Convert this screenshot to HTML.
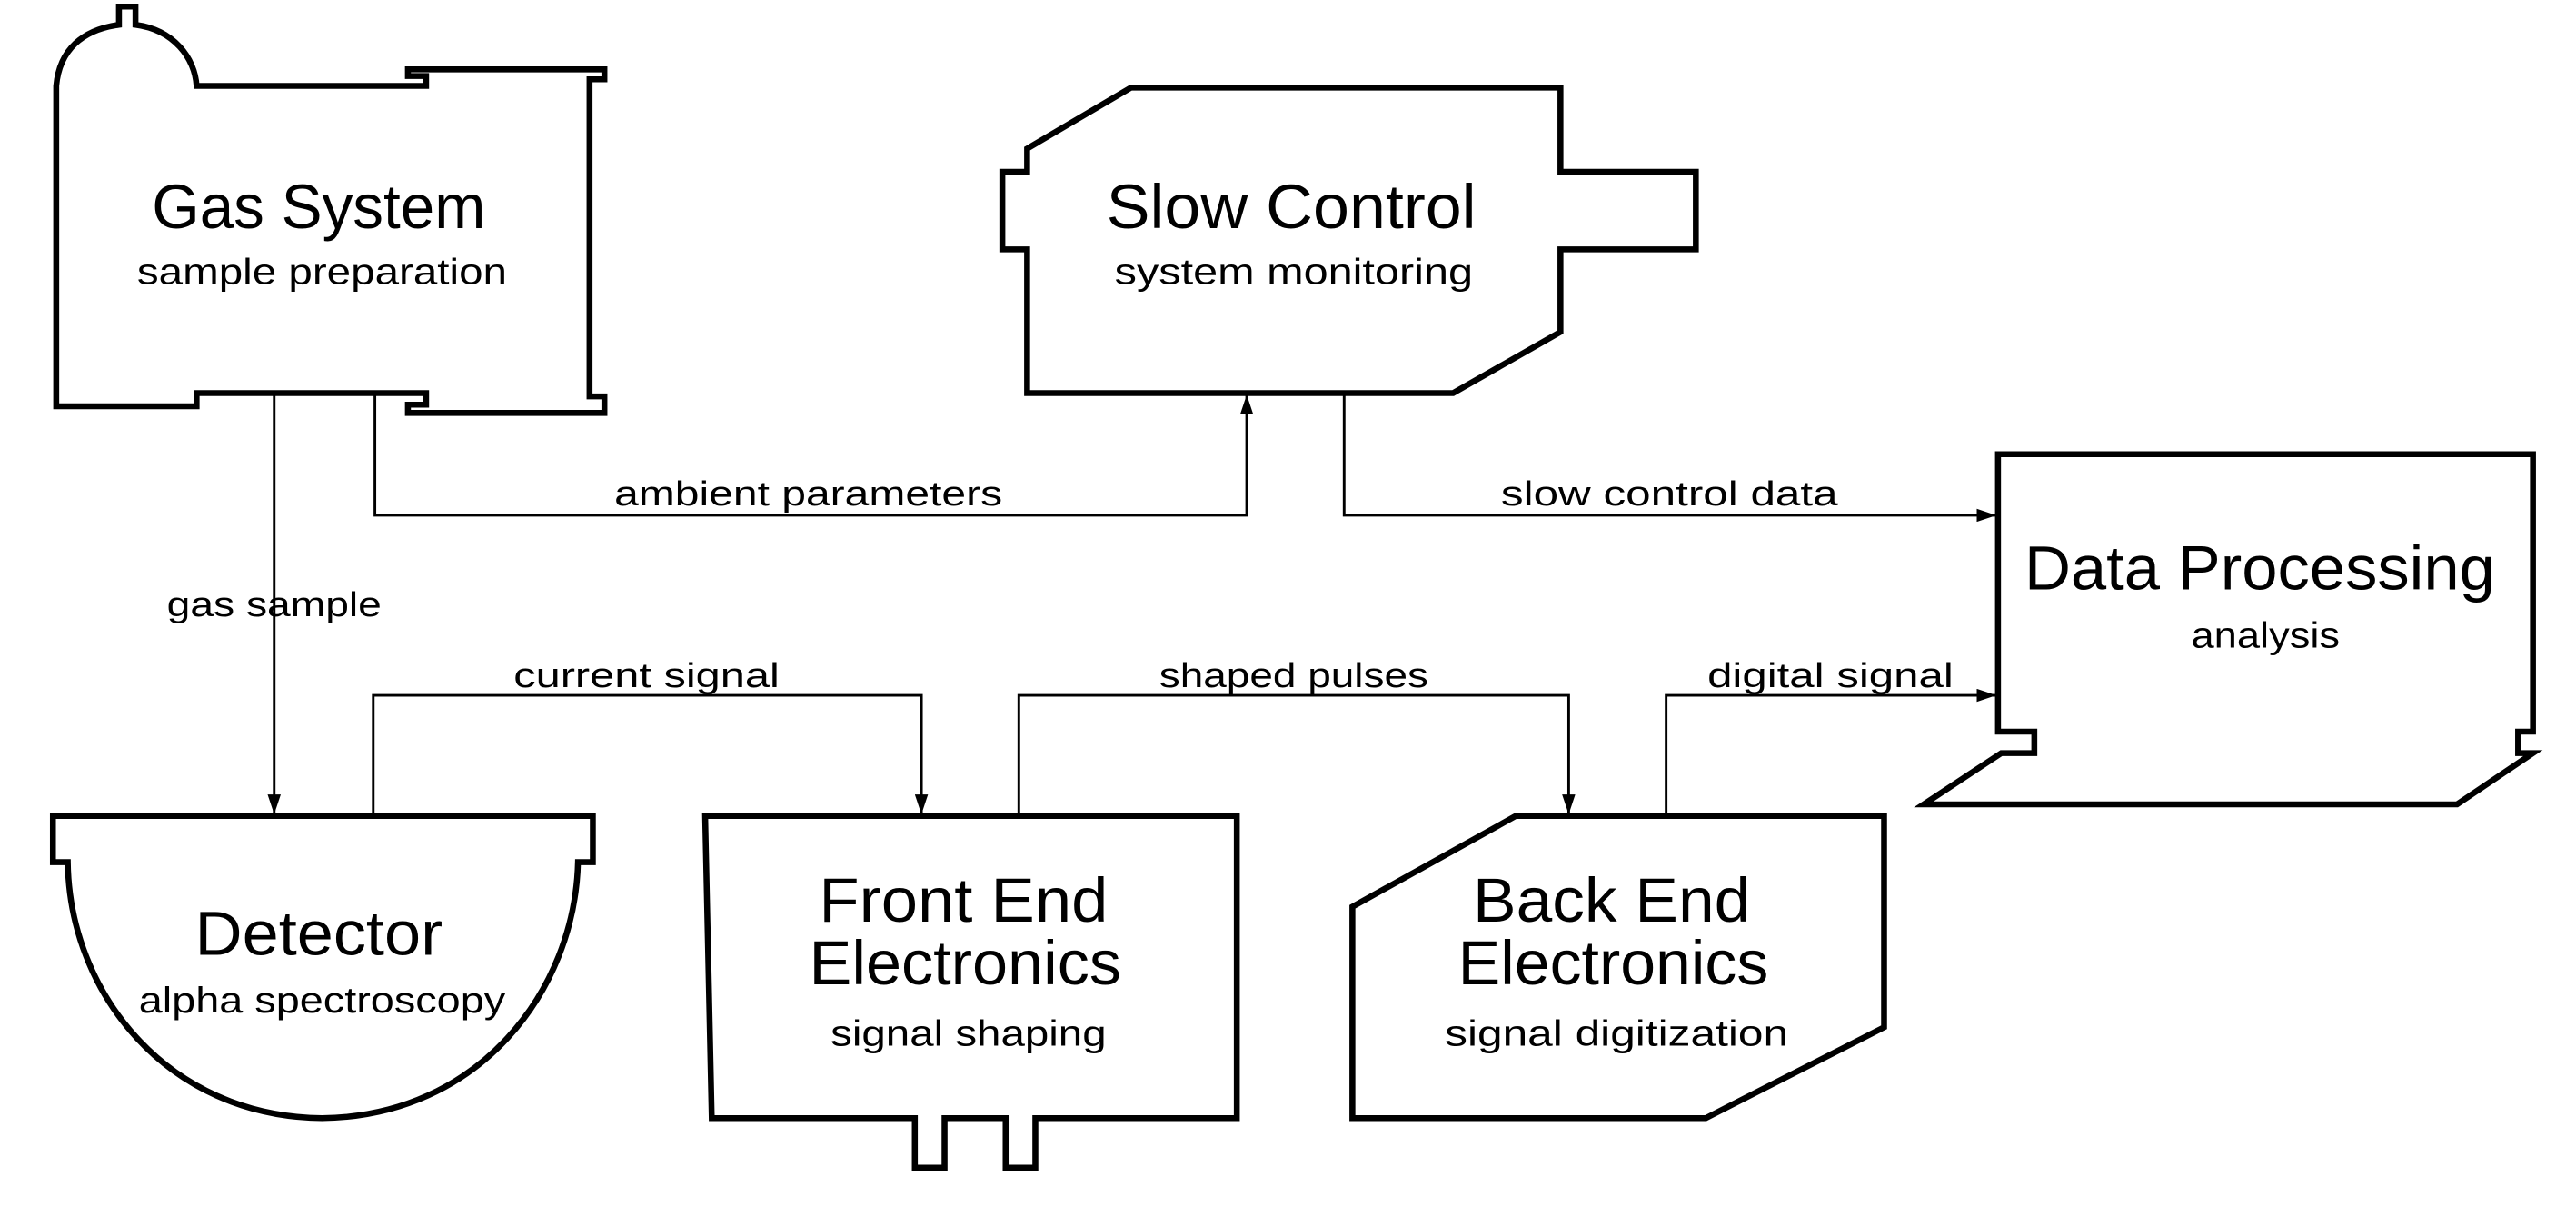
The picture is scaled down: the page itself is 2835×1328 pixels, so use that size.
<!DOCTYPE html>
<html><head><meta charset="utf-8"><style>
html,body{margin:0;padding:0;background:#fff;}
svg{display:block}
text{font-family:"Liberation Sans",sans-serif;fill:#000}
.t{font-size:38px}
.s{font-size:22px}
.l{font-size:21px}
.th{fill:none;stroke:#000;stroke-width:3.6;stroke-linejoin:miter}
.tn{fill:none;stroke:#000;stroke-width:1.6}
</style></head><body>
<svg width="2835" height="1328" viewBox="0 0 1560 730.8" xmlns="http://www.w3.org/2000/svg">
<defs><marker id="a" viewBox="0 0 12 8" refX="12" refY="4" markerWidth="12" markerHeight="8" markerUnits="userSpaceOnUse" orient="auto"><path d="M0,0 L12,4 L0,8 z" fill="#000"/></marker></defs>

<!-- Gas System -->
<path class="th" d="M72,15 L72,4 L82,4 L82,15 C105,18 118,35 119,52 L258,52 L258,46 L247,46 L247,42 L366,42 L366,48 L357,48 L357,240 L366,240 L366,250 L247,250 L247,245 L258,245 L258,238 L119,238 L119,246 L34,246 L34,52 C36,30 50,18 72,15 Z"/>
<!-- Slow Control -->
<path class="th" d="M622,90 L685,53 L945,53 L945,104 L1027,104 L1027,151 L945,151 L945,201 L880,238 L622,238 L622,151 L607,151 L607,104 L622,104 Z"/>
<!-- Data Processing -->
<path class="th" d="M1210,275 L1534,275 L1534,443 L1525,443 L1525,456 L1534,456 L1488,487 L1165,487 L1212,456 L1232,456 L1232,443 L1210,443 Z"/>
<!-- Detector -->
<path class="th" d="M32,494 L359,494 L359,522 L350,522 C348,600 290,676 195,677 C100,676 42,600 41,522 L32,522 Z"/>
<!-- Front End -->
<path class="th" d="M427,494 L749,494 L749,677 L627,677 L627,707 L609,707 L609,677 L572,677 L572,707 L554,707 L554,677 L431,677 Z"/>
<!-- Back End -->
<path class="th" d="M819,549 L918,494 L1141,494 L1141,622 L1033,677 L819,677 Z"/>

<!-- connectors -->
<path class="tn" d="M166,238 L166,493" marker-end="url(#a)"/>
<path class="tn" d="M227,238 L227,312 L755,312 L755,239" marker-end="url(#a)"/>
<path class="tn" d="M814,238 L814,312 L1209,312" marker-end="url(#a)"/>
<path class="tn" d="M226,494 L226,421 L558,421 L558,493" marker-end="url(#a)"/>
<path class="tn" d="M617,494 L617,421 L950,421 L950,493" marker-end="url(#a)"/>
<path class="tn" d="M1009,494 L1009,421 L1209,421" marker-end="url(#a)"/>

<!-- node text -->
<text class="t" x="92" y="138" textLength="202" lengthAdjust="spacingAndGlyphs">Gas System</text>
<text class="s" x="83" y="172" textLength="224" lengthAdjust="spacingAndGlyphs">sample preparation</text>
<text class="t" x="670" y="138" textLength="224" lengthAdjust="spacingAndGlyphs">Slow Control</text>
<text class="s" x="675" y="172" textLength="217" lengthAdjust="spacingAndGlyphs">system monitoring</text>
<text class="t" x="1226" y="357" textLength="285" lengthAdjust="spacingAndGlyphs">Data Processing</text>
<text class="s" x="1327" y="392" textLength="90" lengthAdjust="spacingAndGlyphs">analysis</text>
<text class="t" x="118" y="578" textLength="150" lengthAdjust="spacingAndGlyphs">Detector</text>
<text class="s" x="84" y="613" textLength="222" lengthAdjust="spacingAndGlyphs">alpha spectroscopy</text>
<text class="t" x="496" y="558" textLength="175" lengthAdjust="spacingAndGlyphs">Front End</text>
<text class="t" x="490" y="596" textLength="189" lengthAdjust="spacingAndGlyphs">Electronics</text>
<text class="s" x="503" y="633" textLength="167" lengthAdjust="spacingAndGlyphs">signal shaping</text>
<text class="t" x="892" y="558" textLength="168" lengthAdjust="spacingAndGlyphs">Back End</text>
<text class="t" x="883" y="596" textLength="188" lengthAdjust="spacingAndGlyphs">Electronics</text>
<text class="s" x="875" y="633" textLength="208" lengthAdjust="spacingAndGlyphs">signal digitization</text>

<!-- connector labels -->
<text class="l" x="372" y="306" textLength="235" lengthAdjust="spacingAndGlyphs">ambient parameters</text>
<text class="l" x="909" y="306" textLength="204" lengthAdjust="spacingAndGlyphs">slow control data</text>
<text class="l" x="101" y="373" textLength="130" lengthAdjust="spacingAndGlyphs">gas sample</text>
<text class="l" x="311" y="416" textLength="161" lengthAdjust="spacingAndGlyphs">current signal</text>
<text class="l" x="702" y="416" textLength="163" lengthAdjust="spacingAndGlyphs">shaped pulses</text>
<text class="l" x="1034" y="416" textLength="149" lengthAdjust="spacingAndGlyphs">digital signal</text>
</svg>
</body></html>
